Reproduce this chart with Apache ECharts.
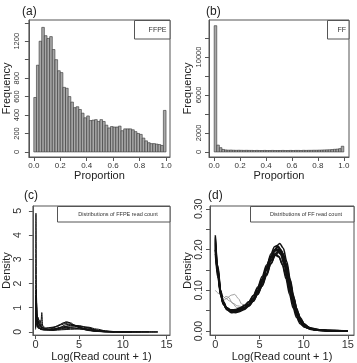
<!DOCTYPE html>
<html>
<head>
<meta charset="utf-8">
<script src="https://cdn.jsdelivr.net/npm/echarts@6/dist/echarts.min.js"></script>
<style>
  html, body { margin: 0; padding: 0; background: #fff; }
  #main { width: 357px; height: 363px; }
</style>
</head>
<body>
<div id="main"></div>
<script>
// histogram counts, bins of width 0.02 from 0 to 1
var ffpeCounts = [590, 940, 1200, 1350, 1260, 1230, 1250, 1110, 1000, 880,
                  860, 700, 690, 600, 540, 480, 490, 460, 420, 370,
                  390, 340, 345, 350, 330, 350, 330, 290, 260, 275,
                  270, 270, 280, 230, 250, 250, 250, 240, 220, 200,
                  190, 150, 120, 100, 90, 90, 85, 80, 70, 450];
var ffCounts = [13300, 720, 450, 260, 210, 190, 200, 180, 170, 180,
                170, 160, 170, 160, 160, 150, 160, 150, 150, 160,
                150, 150, 160, 150, 150, 150, 160, 150, 150, 160,
                150, 160, 160, 150, 170, 160, 170, 170, 180, 180,
                190, 200, 210, 220, 230, 250, 280, 300, 350, 600];
var binWidth = 0.02;

// density curves, FFPE samples
var ffpeDens1 = [[0,0.3],[0.05,4.9],[0.12,1.2],[0.25,0.3],[0.5,0.12],[1,0.1],[2,0.12],[3,0.17],[3.5,0.19],[4,0.18],[5,0.13],[6,0.07],[7,0.03],[8,0.01],[9,0.003],[10,0],[14,0]];
var ffpeDens2 = [[0,0.4],[0.08,1.75],[0.18,0.7],[0.35,0.3],[0.6,0.25],[0.72,0.8],[0.82,0.25],[1.2,0.15],[2,0.18],[3,0.33],[3.5,0.42],[4,0.38],[4.5,0.28],[5.5,0.14],[6.5,0.05],[7.5,0.015],[8.5,0.003],[9.5,0],[13,0]];
var ffpeDens3 = [[0,0.2],[0.1,1.1],[0.2,0.5],[0.4,0.35],[0.7,0.2],[1,0.15],[2,0.2],[3,0.3],[3.4,0.35],[4,0.32],[5,0.2],[6,0.09],[7,0.03],[8,0.008],[9,0],[12,0]];
var ffpeDens4 = [[0,0.3],[0.05,0.9],[0.15,0.4],[0.3,0.6],[0.45,0.2],[0.7,0.3],[1,0.12],[2,0.1],[3,0.2],[4,0.25],[5,0.24],[6,0.16],[7,0.07],[8,0.02],[9,0.005],[10,0],[14,0]];
var ffpeDens5 = [[0,0.5],[0.06,1.4],[0.2,0.3],[0.4,0.45],[0.6,0.15],[1,0.1],[2,0.12],[3,0.2],[4,0.27],[5,0.26],[6,0.18],[7,0.08],[8,0.025],[9,0.006],[10,0]];
var ffpeDens6 = [[0,0.2],[0.1,0.8],[0.25,0.25],[0.5,0.15],[1,0.1],[2,0.08],[3,0.12],[4,0.15],[5,0.16],[6,0.13],[7,0.07],[8,0.03],[9,0.01],[10,0.002],[11,0]];
var ffpeDens7 = [[0,0.15],[0.08,0.6],[0.2,0.2],[0.5,0.3],[0.8,0.12],[1.5,0.1],[2.5,0.22],[3.2,0.38],[3.7,0.4],[4.3,0.3],[5.2,0.15],[6,0.06],[7,0.02],[8,0.005],[9,0]];
var ffpeDens8 = [[0,0.3],[0.05,1.5],[0.15,0.5],[0.3,0.2],[0.6,0.1],[1,0.08],[2,0.1],[3,0.14],[4,0.2],[5,0.22],[6,0.2],[7,0.12],[8,0.05],[9,0.015],[10,0.003],[11,0]];
var ffpeDens9 = [[0,0.2],[0.1,0.7],[0.3,0.35],[0.5,0.5],[0.7,0.2],[1,0.15],[1.5,0.08],[2.5,0.12],[3.5,0.3],[4,0.32],[4.8,0.22],[5.8,0.1],[6.8,0.035],[8,0.008],[9,0]];
var ffpeDens10 = [[0,0.1],[0.1,0.35],[0.3,0.15],[1,0.08],[2,0.06],[3,0.09],[4,0.11],[5,0.12],[6,0.1],[7,0.06],[8,0.025],[9,0.008],[10,0.002],[11,0],[14,0]];
var ffpeCurves = [ffpeDens1, ffpeDens2, ffpeDens3, ffpeDens4, ffpeDens5, ffpeDens6, ffpeDens7, ffpeDens8, ffpeDens9, ffpeDens10];

// density curves, FF samples (main bundle)
var ffDens1 = [[0,0.22],[0.3,0.15],[0.6,0.095],[0.9,0.07],[1.3,0.055],[1.8,0.048],[2.3,0.048],[2.8,0.052],[3.3,0.058],[3.8,0.066],[4.3,0.08],[4.8,0.1],[5.3,0.125],[5.8,0.155],[6.3,0.185],[6.8,0.2],[7.2,0.2],[7.6,0.185],[8,0.155],[8.4,0.115],[8.8,0.075],[9.2,0.045],[9.6,0.026],[10,0.015],[10.5,0.008],[11.5,0.003],[13,0.001],[15,0]];
var ffDens2 = [[0,0.235],[0.3,0.16],[0.6,0.1],[0.9,0.072],[1.3,0.056],[1.8,0.047],[2.3,0.045],[2.8,0.048],[3.3,0.053],[3.8,0.061],[4.3,0.073],[4.8,0.09],[5.3,0.112],[5.8,0.14],[6.3,0.172],[6.8,0.2],[7.1,0.212],[7.3,0.215],[7.7,0.203],[8.1,0.17],[8.5,0.125],[8.9,0.082],[9.3,0.048],[9.7,0.027],[10.2,0.013],[11,0.005],[12.5,0.001],[15,0]];
var ffDens3 = [[0,0.205],[0.3,0.14],[0.6,0.09],[0.9,0.066],[1.3,0.053],[1.8,0.05],[2.3,0.051],[2.8,0.055],[3.3,0.062],[3.8,0.072],[4.3,0.087],[4.8,0.108],[5.3,0.134],[5.8,0.162],[6.3,0.183],[6.8,0.19],[7.2,0.183],[7.6,0.162],[8,0.128],[8.4,0.09],[8.8,0.057],[9.2,0.033],[9.6,0.018],[10.1,0.009],[11,0.003],[12.5,0.0005],[15,0]];
var ffDens4 = [[0,0.215],[0.3,0.145],[0.6,0.092],[0.9,0.068],[1.3,0.052],[1.8,0.045],[2.3,0.046],[2.8,0.05],[3.3,0.056],[3.8,0.064],[4.3,0.077],[4.8,0.096],[5.3,0.12],[5.8,0.15],[6.3,0.18],[6.7,0.198],[7.1,0.205],[7.5,0.192],[7.9,0.162],[8.3,0.122],[8.7,0.082],[9.1,0.05],[9.5,0.029],[10,0.015],[10.6,0.007],[11.5,0.003],[13,0.001],[15,0]];
var ffDens5 = [[0,0.19],[0.3,0.13],[0.6,0.088],[0.9,0.066],[1.3,0.054],[1.8,0.05],[2.3,0.05],[2.8,0.053],[3.3,0.058],[3.8,0.066],[4.3,0.078],[4.8,0.094],[5.3,0.115],[5.8,0.14],[6.3,0.165],[6.8,0.186],[7.2,0.195],[7.6,0.188],[8,0.165],[8.4,0.13],[8.8,0.09],[9.2,0.056],[9.6,0.033],[10.1,0.017],[10.7,0.008],[11.8,0.003],[13.5,0.001],[15,0]];
var ffDens6 = [[0,0.23],[0.3,0.155],[0.6,0.1],[0.9,0.073],[1.3,0.057],[1.8,0.05],[2.3,0.049],[2.8,0.052],[3.3,0.057],[3.8,0.065],[4.3,0.079],[4.8,0.099],[5.3,0.125],[5.8,0.158],[6.3,0.19],[6.7,0.207],[7,0.21],[7.4,0.2],[7.8,0.172],[8.2,0.13],[8.6,0.088],[9,0.054],[9.4,0.031],[9.9,0.016],[10.5,0.007],[11.5,0.002],[13,0.0005],[15,0]];
var ffDens7 = [[0,0.2],[0.3,0.14],[0.6,0.093],[0.9,0.069],[1.3,0.055],[1.8,0.049],[2.3,0.048],[2.8,0.05],[3.3,0.055],[3.8,0.062],[4.3,0.074],[4.8,0.09],[5.3,0.11],[5.8,0.136],[6.3,0.165],[6.8,0.19],[7.3,0.2],[7.7,0.19],[8.1,0.16],[8.5,0.118],[8.9,0.078],[9.3,0.047],[9.7,0.027],[10.2,0.013],[11,0.005],[12.5,0.001],[15,0]];
var ffDens8 = [[0,0.21],[0.3,0.145],[0.6,0.094],[0.9,0.07],[1.3,0.057],[1.8,0.052],[2.3,0.053],[2.8,0.057],[3.3,0.063],[3.8,0.072],[4.3,0.086],[4.8,0.105],[5.3,0.128],[5.8,0.153],[6.3,0.175],[6.8,0.186],[7.2,0.182],[7.6,0.164],[8,0.135],[8.4,0.099],[8.8,0.066],[9.2,0.04],[9.6,0.023],[10,0.013],[10.6,0.006],[11.5,0.002],[13,0.0005],[15,0]];
var ffDens9 = [[0,0.225],[0.3,0.15],[0.6,0.096],[0.9,0.071],[1.3,0.056],[1.8,0.049],[2.3,0.048],[2.8,0.051],[3.3,0.057],[3.8,0.066],[4.3,0.08],[4.8,0.1],[5.3,0.126],[5.8,0.156],[6.3,0.183],[6.7,0.196],[7,0.198],[7.4,0.188],[7.8,0.162],[8.2,0.124],[8.6,0.085],[9,0.053],[9.4,0.031],[9.9,0.016],[10.5,0.007],[11.5,0.002],[13,0.0005],[15,0]];
var ffDens10 = [[0,0.2],[0.3,0.138],[0.6,0.09],[0.9,0.067],[1.3,0.054],[1.8,0.047],[2.3,0.047],[2.8,0.05],[3.3,0.056],[3.8,0.064],[4.3,0.077],[4.8,0.096],[5.3,0.12],[5.8,0.15],[6.3,0.18],[6.7,0.2],[7.1,0.208],[7.5,0.198],[7.9,0.17],[8.3,0.13],[8.7,0.09],[9.1,0.056],[9.5,0.033],[10,0.016],[10.6,0.007],[11.5,0.002],[13,0.0005],[15,0]];
var ffMainCurves = [ffDens1, ffDens2, ffDens3, ffDens4, ffDens5, ffDens6, ffDens7, ffDens8, ffDens9, ffDens10];

// FF samples with a low-count bump (thin grey lines)
var ffBump1 = [[0,0.1],[0.4,0.092],[0.8,0.086],[1.2,0.08],[1.6,0.074],[2,0.068],[2.5,0.062],[3,0.06],[3.5,0.062],[4,0.07],[4.5,0.085],[5,0.105],[5.5,0.13],[6,0.16],[6.5,0.185],[7,0.197],[7.4,0.19],[7.8,0.165],[8.2,0.125],[8.6,0.085],[9,0.052],[9.4,0.03],[10,0.014],[11,0.004],[12.5,0.001],[15,0]];
var ffBump2 = [[0,0.215],[0.3,0.14],[0.6,0.09],[0.9,0.075],[1.3,0.08],[1.8,0.088],[2.2,0.09],[2.6,0.08],[3,0.066],[3.5,0.062],[4,0.068],[4.5,0.082],[5,0.1],[5.5,0.125],[6,0.155],[6.5,0.183],[7,0.2],[7.4,0.198],[7.8,0.175],[8.2,0.135],[8.6,0.092],[9,0.056],[9.4,0.032],[10,0.014],[11,0.004],[12.5,0.001],[15,0]];
var ffBump3 = [[0,0.2],[0.3,0.13],[0.6,0.088],[0.9,0.08],[1.2,0.085],[1.5,0.083],[1.9,0.07],[2.4,0.058],[2.9,0.054],[3.4,0.058],[3.9,0.066],[4.4,0.08],[4.9,0.1],[5.4,0.124],[5.9,0.152],[6.4,0.178],[6.9,0.192],[7.3,0.19],[7.7,0.17],[8.1,0.135],[8.5,0.095],[8.9,0.06],[9.3,0.035],[9.8,0.017],[10.5,0.006],[11.5,0.002],[15,0]];
var ffBumpCurves = [ffBump1, ffBump2, ffBump3];

// axis ticks and labels
var propTicks = [0, 0.2, 0.4, 0.6, 0.8, 1.0];
var ffpeFreqTicks = [0, 200, 400, 600, 800, 1000, 1200, 1400];
var ffpeFreqLabels = [0, 200, 400, 600, 800, 1200];
var ffFreqTicks = [0, 2000, 4000, 6000, 8000, 10000, 12000];
var ffFreqLabels = [0, 2000, 6000, 10000];
var logTicks = [0, 5, 10, 15];
var ffpeDensTicks = [0, 1, 2, 3, 4, 5];
var ffDensTicks = [0, 0.05, 0.1, 0.15, 0.2, 0.25, 0.3];
var ffDensLabels = [0, 0.1, 0.2, 0.3];

var FONT = 'Liberation Sans, Arial, sans-serif';
var LINE = '#555';
var TXT = '#333';

function histData(counts) {
    return counts.map(function(c, i) {
        return [i * binWidth, (i + 1) * binWidth, c];
    });
}

function renderBar(params, api) {
    var p0 = api.coord([api.value(0), api.value(2)]);
    var p1 = api.coord([api.value(1), 0]);
    return {
        type: 'rect',
        shape: {x: p0[0], y: p0[1], width: p1[0] - p0[0], height: p1[1] - p0[1]},
        style: {fill: '#a8a8a8', stroke: '#333', lineWidth: 0.6}
    };
}

function axis(o) {
    var isY = o.dim === 'y';
    return {
        type: 'value',
        gridIndex: o.grid,
        min: o.min,
        max: o.max,
        name: o.name,
        nameLocation: 'middle',
        nameGap: o.nameGap,
        nameRotate: isY ? 90 : 0,
        nameTextStyle: {fontFamily: FONT, fontSize: 11, color: '#222'},
        axisLine: {show: true, onZero: false, lineStyle: {color: LINE, width: 1}},
        axisTick: {show: true, length: 4, customValues: o.ticks, lineStyle: {color: LINE}},
        axisLabel: {
            customValues: o.labels || o.ticks,
            formatter: o.fmt,
            rotate: isY ? 90 : 0,
            margin: o.margin,
            fontFamily: FONT,
            fontSize: o.fontSize,
            color: TXT
        },
        splitLine: {show: false}
    };
}

var series = [
    {type: 'custom', xAxisIndex: 0, yAxisIndex: 0, renderItem: renderBar,
     encode: {x: [0, 1], y: 2}, data: histData(ffpeCounts), clip: true},
    {type: 'custom', xAxisIndex: 1, yAxisIndex: 1, renderItem: renderBar,
     encode: {x: [0, 1], y: 2}, data: histData(ffCounts), clip: true}
];

ffpeCurves.forEach(function(c) {
    series.push({type: 'line', xAxisIndex: 2, yAxisIndex: 2, data: c, symbol: 'none',
        smooth: 0.3, smoothMonotone: 'x', lineStyle: {color: '#111', width: 1}});
});
ffBumpCurves.forEach(function(c) {
    series.push({type: 'line', xAxisIndex: 3, yAxisIndex: 3, data: c, symbol: 'none',
        smooth: 0.3, smoothMonotone: 'x', lineStyle: {color: '#888', width: 0.8}});
});
ffMainCurves.forEach(function(c) {
    series.push({type: 'line', xAxisIndex: 3, yAxisIndex: 3, data: c, symbol: 'none',
        smooth: 0.3, smoothMonotone: 'x', lineStyle: {color: '#111', width: 1.5}});
});

var fmt1 = function(v) { return v.toFixed(1); };
var fmt2 = function(v) { return v.toFixed(2); };
var fmt0 = function(v) { return String(v); };

var option = {
    animation: false,
    backgroundColor: '#fff',
    grid: [
        {left: 27, top: 20, width: 143, height: 137, show: true, borderColor: LINE, borderWidth: 1},
        {left: 209, top: 20, width: 140, height: 137, show: true, borderColor: LINE, borderWidth: 1},
        {left: 29, top: 206, width: 141, height: 133, show: true, borderColor: LINE, borderWidth: 1},
        {left: 210, top: 206, width: 144, height: 133, show: true, borderColor: LINE, borderWidth: 1}
    ],
    title: [
        {text: '(a)', left: 22, top: 6, padding: 0, textStyle: {fontFamily: FONT, fontSize: 12, fontWeight: 'normal', color: '#222'}},
        {text: '(b)', left: 206, top: 6, padding: 0, textStyle: {fontFamily: FONT, fontSize: 12, fontWeight: 'normal', color: '#222'}},
        {text: '(c)', left: 24, top: 190, padding: 0, textStyle: {fontFamily: FONT, fontSize: 12, fontWeight: 'normal', color: '#222'}},
        {text: '(d)', left: 208, top: 190, padding: 0, textStyle: {fontFamily: FONT, fontSize: 12, fontWeight: 'normal', color: '#222'}}
    ],
    xAxis: [
        axis({dim: 'x', grid: 0, min: -0.037, max: 1.03, ticks: propTicks, fmt: fmt1, fontSize: 8, margin: 5, name: 'Proportion', nameGap: 11}),
        axis({dim: 'x', grid: 1, min: -0.04, max: 1.04, ticks: propTicks, fmt: fmt1, fontSize: 8, margin: 5, name: 'Proportion', nameGap: 11}),
        axis({dim: 'x', grid: 2, min: -0.3, max: 15.4, ticks: logTicks, fmt: fmt0, fontSize: 11, margin: 4, name: 'Log(Read count + 1)', nameGap: 13}),
        axis({dim: 'x', grid: 3, min: -0.6, max: 15.7, ticks: logTicks, fmt: fmt0, fontSize: 11, margin: 4, name: 'Log(Read count + 1)', nameGap: 13})
    ],
    yAxis: [
        axis({dim: 'y', grid: 0, min: -55, max: 1430, ticks: ffpeFreqTicks, labels: ffpeFreqLabels, fmt: fmt0, fontSize: 7.5, margin: 8, name: 'Frequency', nameGap: 15}),
        axis({dim: 'y', grid: 1, min: -534, max: 13900, ticks: ffFreqTicks, labels: ffFreqLabels, fmt: fmt0, fontSize: 7.5, margin: 6, name: 'Frequency', nameGap: 16}),
        axis({dim: 'y', grid: 2, min: -0.13, max: 5.2, ticks: ffpeDensTicks, fmt: fmt0, fontSize: 10.5, margin: 9, name: 'Density', nameGap: 15}),
        axis({dim: 'y', grid: 3, min: -0.01, max: 0.307, ticks: ffDensTicks, labels: ffDensLabels, fmt: fmt2, fontSize: 10.5, margin: 5, name: 'Density', nameGap: 14})
    ],
    graphic: [
        {type: 'rect', z: 100, shape: {x: 134.5, y: 20.5, width: 35.5, height: 18.5}, style: {fill: '#fff', stroke: LINE, lineWidth: 1}},
        {type: 'text', z: 101, x: 166.5, y: 30, style: {text: 'FFPE', fontFamily: FONT, fontSize: 7, fill: TXT, align: 'right', verticalAlign: 'middle'}},
        {type: 'rect', z: 100, shape: {x: 327.5, y: 20.5, width: 21.5, height: 18.5}, style: {fill: '#fff', stroke: LINE, lineWidth: 1}},
        {type: 'text', z: 101, x: 346, y: 30, style: {text: 'FF', fontFamily: FONT, fontSize: 7, fill: TXT, align: 'right', verticalAlign: 'middle'}},
        {type: 'rect', z: 100, shape: {x: 57.5, y: 206.5, width: 112.5, height: 15.5}, style: {fill: '#fff', stroke: LINE, lineWidth: 1}},
        {type: 'text', z: 101, x: 118, y: 214, style: {text: 'Distributions of FFPE read count', fontFamily: FONT, fontSize: 5.5, fill: TXT, align: 'center', verticalAlign: 'middle'}},
        {type: 'rect', z: 100, shape: {x: 250.5, y: 206.5, width: 103.5, height: 15.5}, style: {fill: '#fff', stroke: LINE, lineWidth: 1}},
        {type: 'text', z: 101, x: 306, y: 214, style: {text: 'Distributions of FF read count', fontFamily: FONT, fontSize: 5.5, fill: TXT, align: 'center', verticalAlign: 'middle'}}
    ],
    series: series
};

var chart = echarts.init(document.getElementById('main'));
chart.setOption(option);
</script>
</body>
</html>
